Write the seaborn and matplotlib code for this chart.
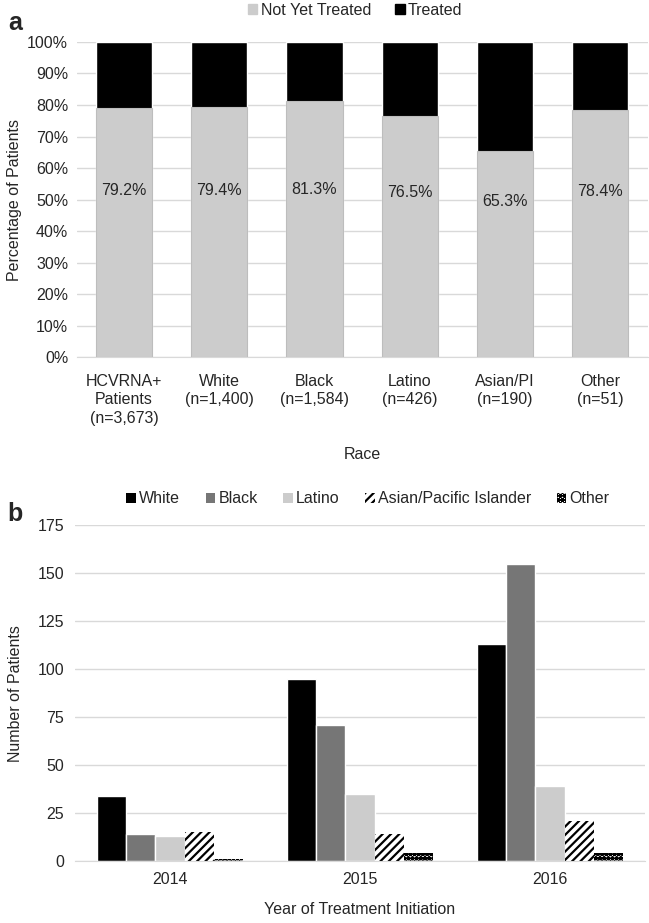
import pandas as pd
import matplotlib.pyplot as plt
import seaborn as sns
from matplotlib.patches import Patch
from matplotlib.ticker import PercentFormatter

# panel a data
race_labels = ['HCVRNA+\nPatients\n(n=3,673)', 'White\n(n=1,400)', 'Black\n(n=1,584)',
               'Latino\n(n=426)', 'Asian/PI\n(n=190)', 'Other\n(n=51)']
not_treated = [79.2, 79.4, 81.3, 76.5, 65.3, 78.4]
total = [100, 100, 100, 100, 100, 100]

# panel b data
years = ['2014', '2015', '2016']
groups = ['White', 'Black', 'Latino', 'Asian/Pacific Islander', 'Other']
white = [34, 95, 113]
black = [14, 71, 155]
latino = [13, 35, 39]
asian = [15, 14, 21]
other = [1, 4, 4]

sns.set_style('white')
plt.rcParams['font.family'] = ['Liberation Sans', 'DejaVu Sans']
plt.rcParams['hatch.linewidth'] = 1.6

fig = plt.figure(figsize=(6.49, 9.23), dpi=100)
ax1 = fig.add_axes([0.118, 0.6132, 0.880, 0.3413])
ax2 = fig.add_axes([0.1156, 0.0672, 0.8782, 0.3638])

grid_c = '#d9d9d9'
fs = 11.5

# ---- panel a ----
da = pd.DataFrame({'race': race_labels, 'total': total, 'nyt': not_treated})
sns.barplot(data=da, x='race', y='total', color='black', width=0.59, ax=ax1,
            saturation=1, zorder=2)
sns.barplot(data=da, x='race', y='nyt', color='#cccccc', width=0.59, ax=ax1,
            saturation=1, edgecolor='#bdbdbd', linewidth=0.8, zorder=3)
for i, v in enumerate(not_treated):
    ax1.text(i, v * 0.25 + 33, f'{v}%', ha='center', va='center', fontsize=fs, zorder=4)
ax1.set_ylim(0, 100)
ax1.set_xlim(-0.5, 5.5)
ax1.set_yticks(range(0, 101, 10))
ax1.yaxis.set_major_formatter(PercentFormatter(decimals=0))
ax1.grid(axis='y', color=grid_c, linewidth=1, zorder=0)
ax1.set_axisbelow(True)
sns.despine(ax=ax1, left=True, top=True, right=True)
ax1.spines['bottom'].set_color(grid_c)
ax1.tick_params(axis='y', length=0, labelsize=fs, pad=6)
ax1.tick_params(axis='x', length=0, labelsize=fs, pad=12)
for t in ax1.get_xticklabels():
    t.set_linespacing(1.3)
ax1.set_xlabel('Race', fontsize=fs, labelpad=15)
ax1.set_ylabel('Percentage of Patients', fontsize=fs, labelpad=4)
fig.legend(handles=[Patch(color='#cccccc', label='Not Yet Treated'),
                    Patch(color='black', label='Treated')],
           loc='center', bbox_to_anchor=(0.547, 0.989), ncol=2, frameon=False,
           fontsize=fs, handlelength=0.6, handleheight=0.6, handletextpad=0.2,
           columnspacing=1.5, borderaxespad=0)
fig.text(0.012, 0.975, 'a', fontsize=18, fontweight='bold', va='center')

# ---- panel b ----
rows = []
for g, vals in zip(groups, [white, black, latino, asian, other]):
    for y, v in zip(years, vals):
        rows.append({'year': y, 'group': g, 'n': v})
db = pd.DataFrame(rows)
pal = {'White': 'black', 'Black': '#767676', 'Latino': '#cccccc',
       'Asian/Pacific Islander': 'white', 'Other': 'white'}
sns.barplot(data=db, x='year', y='n', hue='group', hue_order=groups, palette=pal,
            width=0.77, gap=0, saturation=1, ax=ax2, legend=False, zorder=2)
hatches = {'Asian/Pacific Islander': '////', 'Other': 'oooo'}
for cont, g in zip(ax2.containers, groups):
    if g in hatches:
        for p in cont:
            p.set_hatch(hatches[g])
            p.set_edgecolor('black')
            p.set_linewidth(0)
ax2.set_ylim(0, 175)
ax2.set_xlim(-0.5, 2.5)
ax2.set_yticks(range(0, 176, 25))
ax2.grid(axis='y', color=grid_c, linewidth=1, zorder=0)
ax2.set_axisbelow(True)
sns.despine(ax=ax2, left=True, top=True, right=True)
ax2.spines['bottom'].set_color(grid_c)
ax2.tick_params(axis='both', length=0, labelsize=fs, pad=8)
ax2.set_xlabel('Year of Treatment Initiation', fontsize=fs, labelpad=11)
ax2.set_ylabel('Number of Patients', fontsize=fs, labelpad=10)
leg_handles = [Patch(facecolor=pal[g], edgecolor='black' if g in hatches else pal[g],
                     hatch=hatches.get(g), linewidth=0, label=g) for g in groups]
fig.legend(handles=leg_handles, loc='center', bbox_to_anchor=(0.567, 0.4594), ncol=5,
           frameon=False, fontsize=fs, handlelength=0.6, handleheight=0.6,
           handletextpad=0.2, columnspacing=1.6, borderaxespad=0)
fig.text(0.012, 0.443, 'b', fontsize=18, fontweight='bold', va='center')

fig.savefig('out.png', dpi=100)
